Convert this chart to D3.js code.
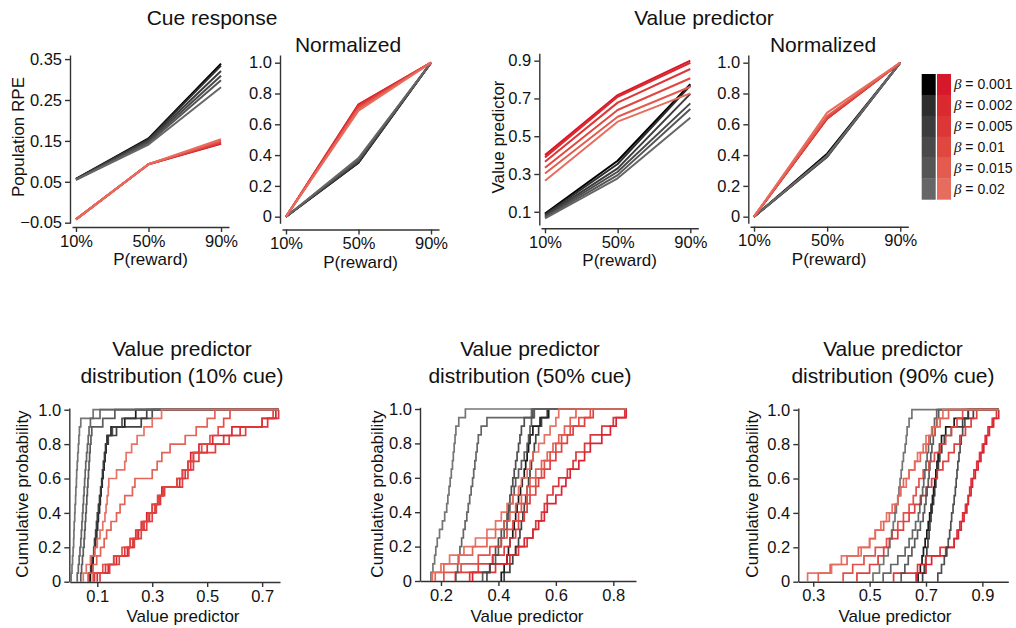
<!DOCTYPE html>
<html>
<head>
<meta charset="utf-8">
<script src="https://cdn.jsdelivr.net/npm/d3@7"></script>
<style>
  body { margin: 0; background: #fff; }
  svg text { font-family: "Liberation Sans", Arial, sans-serif; fill: #111; }
</style>
</head>
<body>
<svg id="chart" width="1016" height="628"></svg>
<script>
// ---- data ----------------------------------------------------------------
const betas = ["0.001", "0.002", "0.005", "0.01", "0.015", "0.02"];
const blackShades = ["#000000", "#2d2d2d", "#3c3c3c", "#494949", "#555555", "#666666"];
const redShades   = ["#d7182a", "#da2a30", "#dd3636", "#e0473f", "#e35b4e", "#e66c5e"];
const rewardProbs = [10, 50, 90];
const rewardTickLabels = ["10%", "50%", "90%"];

// population RPE to the cue, one row per beta, columns = P(reward)
const cueRpeBlack = [
  [0.057, 0.156, 0.339],
  [0.057, 0.154, 0.334],
  [0.056, 0.151, 0.321],
  [0.056, 0.148, 0.309],
  [0.055, 0.145, 0.298],
  [0.055, 0.141, 0.281]
];
const cueRpeRed = [
  [-0.042, 0.093, 0.143],
  [-0.042, 0.093, 0.144],
  [-0.042, 0.093, 0.146],
  [-0.042, 0.093, 0.148],
  [-0.042, 0.093, 0.151],
  [-0.042, 0.093, 0.154]
];

// mean value predictor, one row per beta
const valueBlack = [
  [0.090, 0.370, 0.775],
  [0.085, 0.353, 0.768],
  [0.080, 0.330, 0.724],
  [0.075, 0.312, 0.674],
  [0.070, 0.294, 0.644],
  [0.065, 0.277, 0.598]
];
const valueRed = [
  [0.400, 0.718, 0.900],
  [0.388, 0.709, 0.889],
  [0.365, 0.678, 0.856],
  [0.333, 0.639, 0.807],
  [0.303, 0.603, 0.762],
  [0.264, 0.577, 0.727]
];

// value predictor samples per beta (10% cue)
const cdf10Black = [
  [0.075,0.080,0.085,0.090,0.094,0.098,0.101,0.104,0.108,0.111,0.114,0.118,0.121,0.125,0.128,0.132,0.136,0.150,0.200,0.240],
  [0.070,0.077,0.083,0.088,0.092,0.096,0.100,0.103,0.107,0.110,0.113,0.117,0.120,0.124,0.128,0.131,0.140,0.170,0.260,0.280],
  [0.068,0.076,0.081,0.087,0.090,0.094,0.097,0.100,0.104,0.108,0.112,0.116,0.119,0.122,0.126,0.130,0.135,0.155,0.190,0.300],
  [0.040,0.043,0.046,0.049,0.052,0.054,0.056,0.058,0.060,0.062,0.064,0.066,0.068,0.070,0.072,0.074,0.077,0.080,0.120,0.164],
  [0.027,0.031,0.034,0.037,0.040,0.042,0.044,0.046,0.048,0.050,0.052,0.054,0.056,0.058,0.061,0.064,0.067,0.070,0.075,0.110],
  [0.005,0.008,0.010,0.012,0.014,0.015,0.016,0.018,0.019,0.021,0.022,0.024,0.025,0.027,0.029,0.031,0.033,0.035,0.040,0.085]
];
const cdf10Red = [
  [0.100,0.140,0.170,0.210,0.230,0.250,0.270,0.280,0.300,0.320,0.335,0.400,0.410,0.430,0.440,0.470,0.520,0.590,0.700,0.750],
  [0.090,0.130,0.160,0.200,0.220,0.240,0.260,0.290,0.310,0.330,0.340,0.390,0.420,0.440,0.450,0.500,0.560,0.620,0.720,0.760],
  [0.110,0.145,0.180,0.215,0.235,0.260,0.280,0.300,0.315,0.325,0.345,0.410,0.430,0.450,0.470,0.530,0.580,0.640,0.700,0.740],
  [0.085,0.120,0.160,0.190,0.220,0.245,0.265,0.285,0.300,0.320,0.340,0.390,0.410,0.430,0.450,0.480,0.510,0.540,0.560,0.583],
  [0.067,0.085,0.098,0.112,0.125,0.134,0.150,0.170,0.183,0.200,0.228,0.237,0.300,0.318,0.335,0.365,0.420,0.460,0.500,0.528],
  [0.049,0.060,0.075,0.090,0.100,0.110,0.120,0.128,0.132,0.136,0.140,0.142,0.170,0.200,0.205,0.225,0.245,0.270,0.300,0.334]
];

// value predictor samples per beta (50% cue)
const cdf50Black = [
  [0.410,0.420,0.430,0.435,0.440,0.450,0.455,0.460,0.465,0.470,0.477,0.483,0.490,0.495,0.500,0.505,0.510,0.520,0.545,0.575],
  [0.420,0.440,0.450,0.460,0.470,0.475,0.480,0.485,0.490,0.495,0.500,0.505,0.510,0.515,0.520,0.525,0.530,0.540,0.550,0.570],
  [0.360,0.370,0.380,0.390,0.400,0.410,0.420,0.430,0.435,0.440,0.445,0.450,0.455,0.460,0.465,0.470,0.475,0.480,0.490,0.520],
  [0.345,0.370,0.390,0.400,0.410,0.420,0.430,0.435,0.440,0.450,0.455,0.460,0.470,0.480,0.490,0.500,0.505,0.510,0.515,0.525],
  [0.252,0.258,0.262,0.266,0.272,0.278,0.284,0.290,0.295,0.300,0.305,0.310,0.314,0.318,0.322,0.326,0.330,0.340,0.360,0.515],
  [0.165,0.172,0.178,0.182,0.187,0.195,0.205,0.213,0.220,0.224,0.228,0.232,0.236,0.240,0.243,0.246,0.249,0.252,0.262,0.285]
];
const cdf50Red = [
  [0.310,0.370,0.430,0.460,0.490,0.520,0.540,0.560,0.570,0.600,0.620,0.635,0.650,0.680,0.700,0.720,0.760,0.790,0.810,0.845],
  [0.300,0.390,0.440,0.470,0.500,0.520,0.530,0.550,0.560,0.570,0.590,0.610,0.640,0.660,0.670,0.700,0.720,0.760,0.800,0.840],
  [0.250,0.330,0.380,0.420,0.440,0.460,0.470,0.490,0.500,0.510,0.530,0.540,0.560,0.580,0.600,0.620,0.640,0.660,0.700,0.730],
  [0.210,0.270,0.330,0.370,0.410,0.430,0.450,0.470,0.480,0.500,0.510,0.530,0.550,0.560,0.580,0.600,0.620,0.650,0.680,0.720],
  [0.180,0.210,0.260,0.310,0.360,0.390,0.420,0.440,0.460,0.480,0.500,0.510,0.530,0.550,0.570,0.590,0.610,0.630,0.650,0.670],
  [0.170,0.200,0.230,0.280,0.320,0.360,0.390,0.410,0.430,0.450,0.470,0.480,0.500,0.510,0.520,0.540,0.560,0.580,0.600,0.610]
];

// value predictor samples per beta (90% cue)
const cdf90Black = [
  [0.672,0.680,0.686,0.691,0.697,0.703,0.708,0.713,0.718,0.723,0.727,0.731,0.735,0.739,0.743,0.748,0.755,0.770,0.800,0.850],
  [0.688,0.694,0.699,0.703,0.707,0.711,0.714,0.718,0.722,0.727,0.731,0.735,0.739,0.744,0.749,0.756,0.765,0.790,0.830,0.868],
  [0.742,0.755,0.765,0.774,0.779,0.784,0.788,0.791,0.796,0.800,0.804,0.807,0.810,0.813,0.817,0.821,0.825,0.830,0.838,0.850],
  [0.612,0.625,0.637,0.650,0.660,0.670,0.680,0.690,0.695,0.700,0.704,0.708,0.711,0.714,0.717,0.721,0.726,0.732,0.738,0.745],
  [0.548,0.575,0.600,0.626,0.640,0.652,0.663,0.673,0.678,0.683,0.688,0.692,0.696,0.700,0.704,0.709,0.715,0.722,0.730,0.738],
  [0.512,0.535,0.550,0.566,0.572,0.578,0.584,0.590,0.595,0.600,0.604,0.608,0.612,0.616,0.620,0.626,0.630,0.633,0.640,0.650]
];
const cdf90Red = [
  [0.665,0.700,0.720,0.770,0.800,0.815,0.825,0.835,0.845,0.850,0.860,0.865,0.875,0.885,0.895,0.905,0.915,0.925,0.940,0.958],
  [0.585,0.670,0.700,0.750,0.800,0.810,0.820,0.830,0.840,0.850,0.855,0.860,0.870,0.880,0.890,0.900,0.910,0.920,0.935,0.950],
  [0.455,0.500,0.530,0.550,0.570,0.600,0.620,0.640,0.660,0.680,0.700,0.720,0.740,0.760,0.780,0.800,0.820,0.840,0.860,0.880],
  [0.406,0.440,0.480,0.520,0.560,0.580,0.600,0.620,0.640,0.655,0.665,0.675,0.690,0.710,0.730,0.750,0.770,0.790,0.810,0.830],
  [0.318,0.360,0.420,0.460,0.500,0.520,0.550,0.570,0.590,0.600,0.610,0.620,0.640,0.660,0.680,0.700,0.710,0.730,0.750,0.780],
  [0.280,0.365,0.400,0.470,0.500,0.520,0.540,0.560,0.580,0.600,0.610,0.630,0.640,0.660,0.670,0.690,0.700,0.720,0.740,0.760]
];

const probTicks = [0, 0.2, 0.4, 0.6, 0.8, 1.0];

// ---- drawing -------------------------------------------------------------
const svg = d3.select("#chart");
const AXIS_COLOR = "#333";
const TICK_FONT = "16.5px";
const LABEL_FONT = "17px";
const TITLE_FONT = "21px";

function fmtProb(d) { return d === 0 ? "0" : d.toFixed(1); }

function drawAxes(cfg) {
  const { x, y, xAxisY, yAxisX, xTicks, xFormat, yTicks, yFormat } = cfg;
  const gx = svg.append("g")
    .attr("transform", `translate(0,${xAxisY})`)
    .call(d3.axisBottom(x).tickValues(xTicks).tickFormat(xFormat).tickSize(5).tickSizeOuter(0).tickPadding(3));
  const gy = svg.append("g")
    .attr("transform", `translate(${yAxisX},0)`)
    .call(d3.axisLeft(y).tickValues(yTicks).tickFormat(yFormat).tickSize(5).tickSizeOuter(0).tickPadding(3));
  [gx, gy].forEach(g => {
    g.select(".domain").attr("stroke", AXIS_COLOR).attr("stroke-width", 1.4);
    g.selectAll(".tick line").attr("stroke", AXIS_COLOR).attr("stroke-width", 1.4);
    g.selectAll(".tick text").style("font-size", TICK_FONT).attr("fill", "#111");
  });
}

function text(x, y, str, size, opts = {}) {
  const t = svg.append("text")
    .attr("x", x).attr("y", y)
    .attr("text-anchor", "middle")
    .style("font-size", size)
    .text(str);
  if (opts.rotate) {
    t.attr("x", 0).attr("y", 0)
     .attr("dy", "0.35em")
     .attr("transform", `translate(${x},${y}) rotate(-90)`);
  }
  return t;
}

// normalise each row to its own 10% and 90% values
function normalise(rows) {
  return rows.map(r => r.map(v => (v - r[0]) / (r[2] - r[0])));
}

function linePanel(cfg, blackRows, redRows) {
  const x = d3.scaleLinear().domain([7.8, 94.4]).range(cfg.xRange);
  const y = d3.scaleLinear().domain(cfg.yDomain).range(cfg.yRange);
  drawAxes({
    x, y, xAxisY: cfg.xAxisY, yAxisX: cfg.yAxisX,
    xTicks: rewardProbs, xFormat: (d, i) => rewardTickLabels[i],
    yTicks: cfg.yTicks, yFormat: cfg.yFormat
  });
  const line = d3.line().x((d, i) => x(rewardProbs[i])).y(d => y(d));
  const g = svg.append("g").attr("fill", "none").attr("stroke-width", 2).attr("stroke-linejoin", "round");
  // darkest first, so the lighter shades end up on top
  betas.forEach((b, i) => {
    g.append("path").attr("d", line(blackRows[i])).attr("stroke", blackShades[i]);
  });
  betas.forEach((b, i) => {
    g.append("path").attr("d", line(redRows[i])).attr("stroke", redShades[i]);
  });
  const cx = (cfg.xRange[0] + cfg.xRange[1]) / 2;
  text(cx, cfg.xAxisY + 38, "P(reward)", LABEL_FONT);
}

function cdfPanel(cfg, blackSamples, redSamples) {
  const x = d3.scaleLinear().domain(cfg.xDomain).range(cfg.xRange);
  const y = d3.scaleLinear().domain([0, 1.01]).range(cfg.yRange);
  drawAxes({
    x, y, xAxisY: cfg.xAxisY, yAxisX: cfg.yAxisX,
    xTicks: cfg.xTicks, xFormat: d3.format(".1f"),
    yTicks: probTicks, yFormat: fmtProb
  });
  const all = blackSamples.flat().concat(redSamples.flat());
  const xEnd = d3.max(all);
  const step = d3.line().x(d => x(d[0])).y(d => y(d[1])).curve(d3.curveStepAfter);
  function ecdfPoints(vals) {
    const s = vals.slice().sort(d3.ascending);
    const n = s.length;
    const pts = [[s[0], 0]];
    s.forEach((v, i) => pts.push([v, (i + 1) / n]));
    pts.push([xEnd, 1]);
    return pts;
  }
  const g = svg.append("g").attr("fill", "none").attr("stroke-width", 1.7);
  betas.forEach((b, i) => {
    g.append("path").attr("d", step(ecdfPoints(blackSamples[i]))).attr("stroke", blackShades[i]).attr("opacity", 0.9);
    g.append("path").attr("d", step(ecdfPoints(redSamples[i]))).attr("stroke", redShades[i]).attr("opacity", 0.95);
  });
  text(cfg.titleX, 356, "Value predictor", TITLE_FONT);
  text(cfg.titleX, 383, cfg.title2, TITLE_FONT);
  text(cfg.labelX, 622, "Value predictor", LABEL_FONT);
  text(cfg.yLabelX, 494, "Cumulative probability", LABEL_FONT, { rotate: true });
}

// ---- top row ----
text(212, 25, "Cue response", TITLE_FONT);
text(704, 25, "Value predictor", TITLE_FONT);
text(348, 52, "Normalized", TITLE_FONT);
text(823, 52, "Normalized", TITLE_FONT);

const normTicks = [0, 0.2, 0.4, 0.6, 0.8, 1.0];

linePanel({
  xRange: [72, 229], xAxisY: 227, yAxisX: 70,
  yDomain: [-0.0515, 0.36], yRange: [223.3, 55],
  yTicks: [-0.05, 0.05, 0.15, 0.25, 0.35], yFormat: d3.format(".2f")
}, cueRpeBlack, cueRpeRed);
text(18, 137, "Population RPE", LABEL_FONT, { rotate: true });

linePanel({
  xRange: [282, 439], xAxisY: 229.5, yAxisX: 280,
  yDomain: [-0.043, 1.05], yRange: [223.3, 55],
  yTicks: normTicks, yFormat: fmtProb
}, normalise(cueRpeBlack), normalise(cueRpeRed));

linePanel({
  xRange: [541, 698.3], xAxisY: 228.3, yAxisX: 539.3,
  yDomain: [0.03, 0.939], yRange: [225, 53.3],
  yTicks: [0.1, 0.3, 0.5, 0.7, 0.9], yFormat: d3.format(".1f")
}, valueBlack, valueRed);
text(498, 137, "Value predictor", LABEL_FONT, { rotate: true });

linePanel({
  xRange: [750, 908.3], xAxisY: 226.7, yAxisX: 748.3,
  yDomain: [-0.043, 1.05], yRange: [223.3, 55],
  yTicks: normTicks, yFormat: fmtProb
}, normalise(valueBlack), normalise(valueRed));

// legend
const legend = svg.append("g");
const rowH = 20.9, legTop = 74;
betas.forEach((b, i) => {
  legend.append("rect").attr("x", 921.7).attr("y", legTop + i * rowH)
    .attr("width", 14).attr("height", rowH + 0.3).attr("fill", blackShades[i]);
  legend.append("rect").attr("x", 937).attr("y", legTop + i * rowH)
    .attr("width", 14).attr("height", rowH + 0.3).attr("fill", redShades[i]);
  const t = legend.append("text").attr("x", 954).attr("y", legTop + i * rowH + rowH / 2 + 5)
    .style("font-size", "14px");
  t.append("tspan").style("font-family", "'Liberation Serif', serif").style("font-style", "italic")
    .style("font-size", "15px").text("\u03B2");
  t.append("tspan").text(" = " + b);
});

// ---- bottom row ----
cdfPanel({
  xDomain: [0, 0.765], xRange: [69.8, 280], xAxisY: 582, yAxisX: 69.3, yRange: [581.7, 408],
  xTicks: [0.1, 0.3, 0.5, 0.7], titleX: 182, title2: "distribution (10% cue)",
  labelX: 183, yLabelX: 22
}, cdf10Black, cdf10Red);

cdfPanel({
  xDomain: [0.127, 0.879], xRange: [420, 636], xAxisY: 581, yAxisX: 420, yRange: [581, 407.3],
  xTicks: [0.2, 0.4, 0.6, 0.8], titleX: 530, title2: "distribution (50% cue)",
  labelX: 527, yLabelX: 377
}, cdf50Black, cdf50Red);

cdfPanel({
  xDomain: [0.247, 0.992], xRange: [798.3, 1008.3], xAxisY: 581.7, yAxisX: 798.3, yRange: [581.7, 408],
  xTicks: [0.3, 0.5, 0.7, 0.9], titleX: 893, title2: "distribution (90% cue)",
  labelX: 895, yLabelX: 752
}, cdf90Black, cdf90Red);
</script>
</body>
</html>
